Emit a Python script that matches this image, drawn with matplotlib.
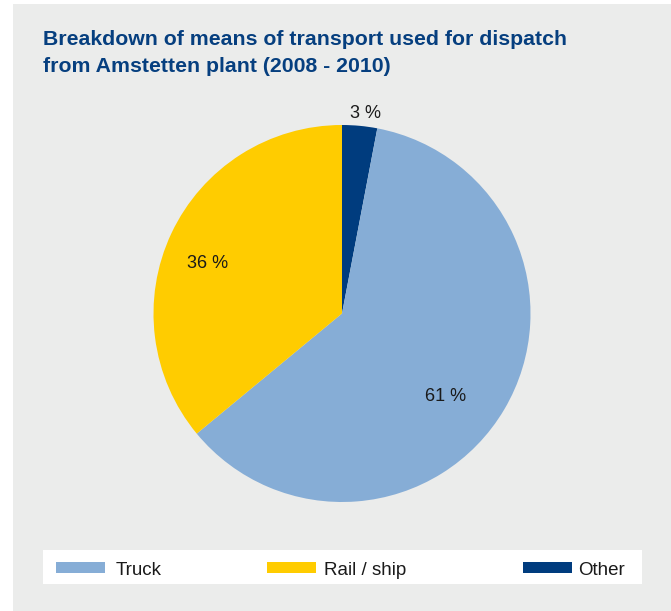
import matplotlib
matplotlib.use("Agg")
import matplotlib.pyplot as plt
from matplotlib.patches import Rectangle

# Shares of dispatch transport, 2008-2010 (percent)
categories = ["Truck", "Rail / ship", "Other"]
shares = [61, 36, 3]
colors = ["#86add6", "#ffcc00", "#003c7e"]
title_lines = ["Breakdown of means of transport used for dispatch",
               "from Amstetten plant (2008 - 2010)"]

W, H = 671, 611
fig = plt.figure(figsize=(W / 100, H / 100), dpi=100, facecolor="white")

def fx(px):
    return px / W

def fy(py):
    return 1 - py / H

# grey panel and white legend strip
fig.patches.append(Rectangle((fx(13), 0), fx(W) - fx(13), fy(4), transform=fig.transFigure,
                             facecolor="#ebeceb", edgecolor="none", zorder=0))
fig.patches.append(Rectangle((fx(43), fy(584)), fx(642) - fx(43), fy(550) - fy(584),
                             transform=fig.transFigure, facecolor="white",
                             edgecolor="none", zorder=1))

# title
for i, line in enumerate(title_lines):
    fig.text(fx(43), fy(45 + 27 * i), line, ha="left", va="baseline",
             fontsize=15.3, fontweight="bold", color="#063f7f",
             family=["Liberation Sans", "DejaVu Sans"], zorder=5)

# pie: drawn clockwise from 12 o'clock, Other first
cx, cy, r = 342, 313.5, 188.5
ax = fig.add_axes([fx(cx - r), fy(cy + r), fx(2 * r), fy(cy - r) - fy(cy + r)])
ax.set_zorder(3)
ax.patch.set_visible(False)
order = [2, 0, 1]
wedges, _ = ax.pie([shares[i] for i in order], colors=[colors[i] for i in order],
                   startangle=90, counterclock=False, radius=1,
                   wedgeprops=dict(linewidth=0))
ax.set_xlim(-1, 1)
ax.set_ylim(-1, 1)
ax.set_aspect("auto")
ax.axis("off")

# value labels
label_pos = {0: (446, 401), 1: (208, 268), 2: (365, 118)}
for i, v in enumerate(shares):
    x, y = label_pos[i]
    fig.text(fx(x), fy(y), f"{v} %", ha="center", va="baseline", fontsize=13,
             color="#1a1a1a", family=["Liberation Sans", "DejaVu Sans"], zorder=5)

# legend
sw_x = [56, 267, 523]
txt_x = [116, 324, 578]
for i, name in enumerate(categories):
    fig.patches.append(Rectangle((fx(sw_x[i]), fy(573)), fx(49), fy(562) - fy(573),
                                 transform=fig.transFigure, facecolor=colors[i],
                                 edgecolor="none", zorder=2))
    fig.text(fx(txt_x[i]), fy(575), name, ha="left", va="baseline", fontsize=13.5,
             color="#1a1a1a", family=["Liberation Sans", "DejaVu Sans"], zorder=5)

fig.savefig("out.png", dpi=100, facecolor="white")
